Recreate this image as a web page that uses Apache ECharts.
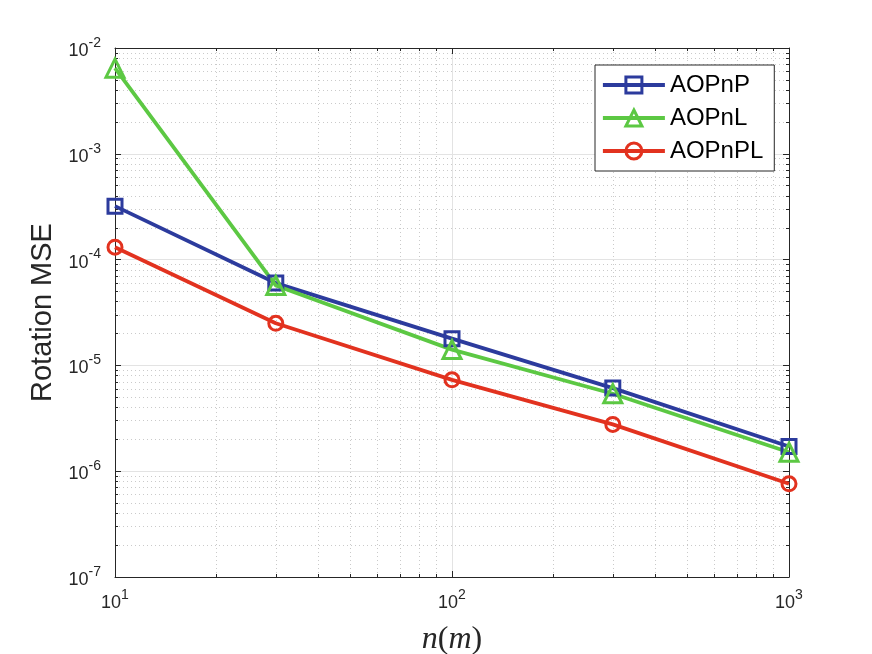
<!DOCTYPE html>
<html>
<head>
<meta charset="utf-8">
<script src="https://cdn.jsdelivr.net/npm/echarts@6/dist/echarts.min.js"></script>
<style>
html,body{margin:0;padding:0;background:#fff;}
#chart{width:872px;height:654px;}
</style>
</head>
<body>
<div id="chart"></div>
<script>
// ---- data ----
var nValues = [10, 30, 100, 300, 1000];
var aopnp  = [3.2e-4, 6.0e-5, 1.79e-5, 6.1e-6, 1.71e-6];
var aopnl  = [6.45e-3, 5.7e-5, 1.41e-5, 5.4e-6, 1.51e-6];
var aopnpl = [1.31e-4, 2.5e-5, 7.3e-6, 2.77e-6, 7.6e-7];
var seriesNames = ['AOPnP', 'AOPnL', 'AOPnPL'];
var xMajorTicks = [10, 100, 1000];
var xMinorTicks = [20, 30, 40, 50, 60, 70, 80, 90, 200, 300, 400, 500, 600, 700, 800, 900];
var yMajorTicks = [1e-7, 1e-6, 1e-5, 1e-4, 1e-3, 1e-2];
var yMinorTicks = [];
[1e-7, 1e-6, 1e-5, 1e-4, 1e-3].forEach(function (d) {
  for (var k = 2; k <= 9; k++) yMinorTicks.push(+(k * d).toPrecision(3));
});

var C_AXIS = '#262626';
var FONT = 'Liberation Sans';
var blue = '#2c3b9d', green = '#5cc843', red = '#e2321f';

function powLabel(v) {
  var e = Math.round(Math.log10(v));
  return '{b|10}{s|' + e + '}';
}
var richLbl = {
  b: { fontSize: 18, fontFamily: FONT, color: C_AXIS, lineHeight: 14, verticalAlign: 'bottom' },
  s: { fontSize: 14, fontFamily: FONT, color: C_AXIS, lineHeight: 24, verticalAlign: 'top' }
};

var XMIN = 10, XMAX = 1000, YMIN = 1e-7, YMAX = 1e-2;

function baseAxis(extra) {
  var o = {
    type: 'log', logBase: 10,
    axisLine: { show: false, lineStyle: { color: C_AXIS, width: 1 } },
    axisTick: { show: false },
    axisLabel: { show: false },
    splitLine: { show: false },
    minorTick: { show: false },
    minorSplitLine: { show: false }
  };
  for (var k in extra) o[k] = extra[k];
  return o;
}

var xAxes = [
  baseAxis({
    position: 'bottom', min: XMIN, max: XMAX,
    name: '{i|n}{r|(}{i|m}{r|)}', nameLocation: 'middle', nameGap: 47,
    nameTextStyle: { rich: {
      i: { fontFamily: 'Liberation Serif', fontStyle: 'italic', fontSize: 32, color: C_AXIS },
      r: { fontFamily: 'Liberation Serif', fontSize: 32, color: C_AXIS }
    } },
    axisLine: { show: true, lineStyle: { color: C_AXIS, width: 1 } },
    axisTick: { show: true, inside: true, length: 6, lineStyle: { color: C_AXIS }, customValues: xMajorTicks },
    axisLabel: { show: true, margin: 11, formatter: powLabel, rich: richLbl, customValues: xMajorTicks },
    splitLine: { show: true, lineStyle: { color: '#e3e3e3', width: 1 } }
  }),
  baseAxis({
    position: 'bottom', min: XMIN, max: XMAX,
    axisTick: { show: true, inside: true, length: 3, lineStyle: { color: C_AXIS }, customValues: xMinorTicks },
    splitLine: { show: true, lineStyle: { color: '#cacaca', width: 1, type: [1, 3] } }
  }),
  baseAxis({
    position: 'top', min: XMIN, max: XMAX,
    axisLine: { show: true, lineStyle: { color: C_AXIS, width: 1 } },
    axisTick: { show: true, inside: true, length: 6, lineStyle: { color: C_AXIS }, customValues: xMajorTicks }
  }),
  baseAxis({
    position: 'top', min: XMIN, max: XMAX,
    axisTick: { show: true, inside: true, length: 3, lineStyle: { color: C_AXIS }, customValues: xMinorTicks }
  })
];

var yAxes = [
  baseAxis({
    position: 'left', min: YMIN, max: YMAX,
    name: 'Rotation MSE', nameLocation: 'middle', nameGap: 57,
    nameTextStyle: { fontFamily: FONT, fontSize: 29, color: C_AXIS },
    axisLine: { show: true, lineStyle: { color: C_AXIS, width: 1 } },
    axisTick: { show: true, inside: true, length: 6, lineStyle: { color: C_AXIS }, customValues: yMajorTicks },
    axisLabel: { show: true, margin: 14, formatter: powLabel, rich: richLbl, customValues: yMajorTicks },
    splitLine: { show: true, lineStyle: { color: '#e3e3e3', width: 1 } }
  }),
  baseAxis({
    position: 'left', min: YMIN, max: YMAX,
    axisTick: { show: true, inside: true, length: 3, lineStyle: { color: C_AXIS }, customValues: yMinorTicks },
    splitLine: { show: true, lineStyle: { color: '#cacaca', width: 1, type: [1, 3] } }
  }),
  baseAxis({
    position: 'right', min: YMIN, max: YMAX,
    axisLine: { show: true, lineStyle: { color: C_AXIS, width: 1 } },
    axisTick: { show: true, inside: true, length: 6, lineStyle: { color: C_AXIS }, customValues: yMajorTicks }
  }),
  baseAxis({
    position: 'right', min: YMIN, max: YMAX,
    axisTick: { show: true, inside: true, length: 3, lineStyle: { color: C_AXIS }, customValues: yMinorTicks }
  })
];

function mkSeries(name, vals, color, symbol, size) {
  return {
    name: name, type: 'line',
    xAxisIndex: 0, yAxisIndex: 0,
    data: nValues.map(function (x, i) { return [x, vals[i]]; }),
    symbol: symbol, symbolSize: size, showAllSymbol: true,
    lineStyle: { color: color, width: 3.8 },
    itemStyle: { color: 'rgba(255,255,255,0)', borderColor: color, borderWidth: 3 },
    emphasis: { disabled: true },
    animation: false,
    z: 3
  };
}

var chart = echarts.init(document.getElementById('chart'), null, { renderer: 'canvas' });
chart.setOption({
  backgroundColor: '#ffffff',
  animation: false,
  grid: { left: 115, right: 83, top: 48, bottom: 77, containLabel: false, outerBoundsMode: 'none' },
  xAxis: xAxes,
  yAxis: yAxes,
  legend: {
    orient: 'vertical',
    left: 595, top: 65,
    itemWidth: 62, itemHeight: 20, itemGap: 9,
    padding: [8, 11, 8, 6],
    borderColor: C_AXIS, borderWidth: 1, backgroundColor: '#ffffff',
    textStyle: { fontFamily: FONT, fontSize: 24, lineHeight: 20, color: '#000' },
    lineStyle: { width: 3.8 },
    itemStyle: { borderWidth: 3 },
    data: seriesNames
  },
  series: [
    mkSeries(seriesNames[0], aopnp, blue, 'rect', 14),
    mkSeries(seriesNames[1], aopnl, green, 'triangle', 18),
    mkSeries(seriesNames[2], aopnpl, red, 'circle', 14)
  ]
});
</script>
</body>
</html>
